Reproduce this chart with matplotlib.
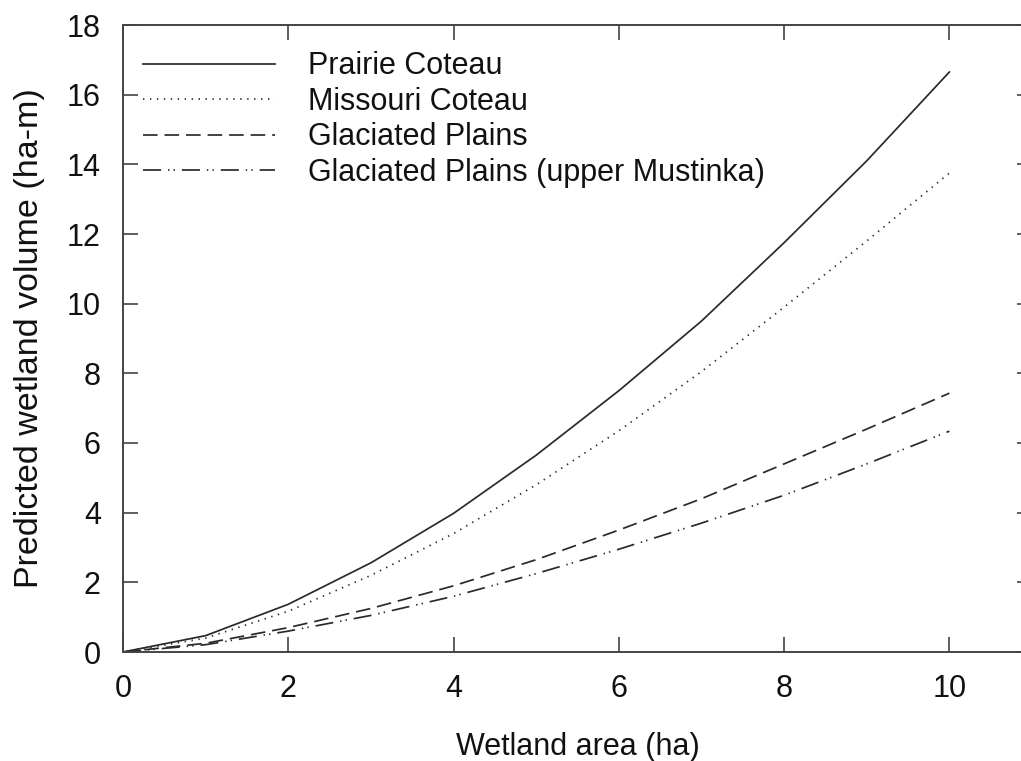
import matplotlib
matplotlib.use("Agg")
import matplotlib.pyplot as plt

area = [0, 1, 2, 3, 4, 5, 6, 7, 8, 9, 10]
prairie = [0, 0.47, 1.37, 2.56, 3.98, 5.65, 7.5, 9.5, 11.75, 14.1, 16.65]
missouri = [0, 0.40, 1.17, 2.2, 3.4, 4.8, 6.35, 8.05, 9.9, 11.8, 13.75]
glaciated = [0, 0.25, 0.70, 1.25, 1.9, 2.65, 3.5, 4.4, 5.4, 6.4, 7.43]
mustinka = [0, 0.21, 0.60, 1.05, 1.6, 2.25, 2.95, 3.7, 4.5, 5.4, 6.34]
labels = ["Prairie Coteau", "Missouri Coteau", "Glaciated Plains",
          "Glaciated Plains (upper Mustinka)"]
xticks = [0, 2, 4, 6, 8, 10]
yticks = [0, 2, 4, 6, 8, 10, 12, 14, 16, 18]

plt.rcParams['font.family'] = ['Liberation Sans', 'DejaVu Sans']
plt.rcParams['lines.scale_dashes'] = False

fig = plt.figure(figsize=(10.21, 7.61), dpi=100)
ax = fig.add_axes([123/1021, (761-652)/761, 909/1021, 627/761])

col = '#2a2a2a'
lw = 1.25
ax.plot(area, prairie, color=col, lw=lw, linestyle='-', label=labels[0])
ax.plot(area, missouri, color=col, lw=lw, linestyle=(0, (1.0, 4.0)), label=labels[1])
ax.plot(area, glaciated, color=col, lw=lw, linestyle=(0, (10.5, 5.0)), label=labels[2])
ax.plot(area, mustinka, color=col, lw=lw,
        linestyle=(0, (13.0, 5.0, 1.0, 3.0, 1.0, 5.0)), label=labels[3])

ax.set_xlim(0, 11)
ax.set_ylim(0, 18)
ax.set_xticks(xticks)
ax.set_yticks(yticks)
ax.tick_params(direction='in', length=11, width=1.1, color='#333333',
               labelsize=22, pad=16, top=True, right=True, labelcolor='#111111')
for s in ax.spines.values():
    s.set_linewidth(1.4)
    s.set_color('#444444')

ax.set_xlabel("Wetland area (ha)", fontsize=22, color='#111111', labelpad=20)
ax.set_ylabel("Predicted wetland volume (ha-m)", fontsize=24.5, color='#111111')
ax.yaxis.set_label_coords(-0.086, 0.5)

leg = ax.legend(loc='upper left', bbox_to_anchor=(0.022, 0.958), frameon=False,
                fontsize=22, handlelength=4.32, handletextpad=1.08,
                labelspacing=0.18, borderpad=0, borderaxespad=0)
for t in leg.get_texts():
    t.set_color('#111111')

fig.savefig("out.png", dpi=100)
